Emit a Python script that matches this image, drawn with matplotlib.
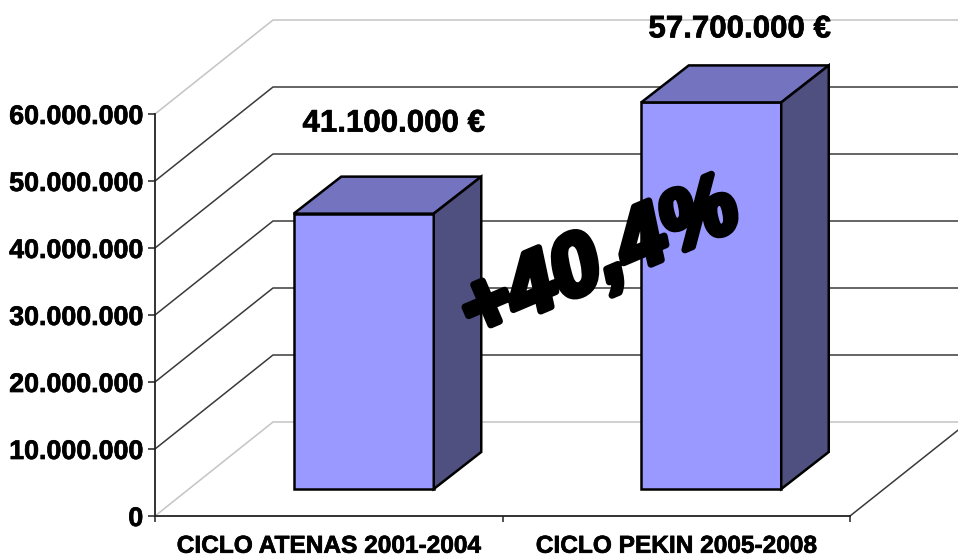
import matplotlib
matplotlib.use("Agg")
import matplotlib.pyplot as plt
from matplotlib.patches import Polygon
import matplotlib.patheffects as pe

categories = ["CICLO ATENAS 2001-2004", "CICLO PEKIN 2005-2008"]
values = [41100000, 57700000]
value_labels = ["41.100.000 €", "57.700.000 €"]
y_ticks = [0, 10000000, 20000000, 30000000, 40000000, 50000000, 60000000]
y_labels = ["0", "10.000.000", "20.000.000", "30.000.000", "40.000.000", "50.000.000", "60.000.000"]
note = "+40,4%"

W, H = 958, 559
L, R, T, B = 155, 850, 114, 516
plt.rcParams["font.family"] = ["Liberation Sans", "DejaVu Sans"]
fig = plt.figure(figsize=(W / 100, H / 100), dpi=100)
ax = fig.add_axes([L / W, 1 - B / H, (R - L) / W, (B - T) / H])
ax.set_xlim(0, 2)
ax.set_ylim(0, 60000000)
ax.patch.set_alpha(0)

px_x = 2 / (R - L)
px_y = 60000000 / (B - T)
dep_x, dep_y = 118 * px_x, 94 * px_y
FRONT_X, FRONT_Y = 35 * px_x, 27 * px_y
BAR_W = 140 * px_x
BAR_DX, BAR_DY = 47.5 * px_x, 37 * px_y
x_end = (W + 2 - L) * px_x
bold_fx = [pe.withStroke(linewidth=0.5, foreground="black")]

# walls and gridlines
for v in y_ticks:
    c = "#c4c4c4" if v in (0, 60000000) else "#3a3a3a"
    ax.plot([0, dep_x, x_end], [v, v + dep_y, v + dep_y], color=c, lw=1.1, clip_on=False, zorder=1)
ax.plot([2, x_end], [0, dep_y * 0.93], color="#3a3a3a", lw=1.1, clip_on=False, zorder=1)

# bars
for i, val in enumerate(values):
    x0 = i + 0.5 + FRONT_X - BAR_W / 2
    x1 = x0 + BAR_W
    y0 = FRONT_Y
    y1 = val + FRONT_Y
    kw = dict(edgecolor="#000000", lw=1.8, joinstyle="miter", clip_on=False, zorder=3)
    ax.add_patch(Polygon([[x0, y0], [x1, y0], [x1, y1], [x0, y1]], facecolor="#9999ff", **kw))
    ax.add_patch(Polygon([[x0, y1], [x1, y1], [x1 + BAR_DX, y1 + BAR_DY], [x0 + BAR_DX, y1 + BAR_DY]],
                         facecolor="#7373bf", **kw))
    ax.add_patch(Polygon([[x1, y0], [x1 + BAR_DX, y0 + BAR_DY], [x1 + BAR_DX, y1 + BAR_DY], [x1, y1]],
                         facecolor="#4f4f80", **kw))
    ax.text(x0 + BAR_W * 0.7 + (2 if i == 0 else 0.5) * px_x, y1 + BAR_DY + (53 if i == 0 else 36) * px_y,
            value_labels[i], ha="center", va="center", fontsize=22.5, fontweight="bold", color="black",
            zorder=5, clip_on=False, path_effects=bold_fx)

# axes
for s in ("top", "right"):
    ax.spines[s].set_visible(False)
for s in ("left", "bottom"):
    ax.spines[s].set_color("#222222")
    ax.spines[s].set_linewidth(1.3)
ax.set_yticks(y_ticks, y_labels, fontsize=19.3, fontweight="bold", path_effects=bold_fx)
ax.set_xticks([0, 1, 2], [])
ax.set_xticks([0.5, 1.5], categories, minor=True, fontsize=17.6, fontweight="bold", path_effects=bold_fx)
ax.tick_params(axis="y", length=5, width=1.1, color="#222222", pad=3.5)
ax.tick_params(axis="x", which="major", length=4.5, width=1.1, color="#222222")
ax.tick_params(axis="x", which="minor", length=0, pad=13.5)

# word-art note
fig.text(600 / W, 1 - 262 / H, note, ha="center", va="center", rotation=23, rotation_mode="anchor",
         fontsize=62, fontweight="bold", fontstyle="italic", color="black", zorder=6,
         path_effects=[pe.withStroke(linewidth=5, foreground="black")])

fig.savefig("out.png", dpi=100, facecolor="white")
